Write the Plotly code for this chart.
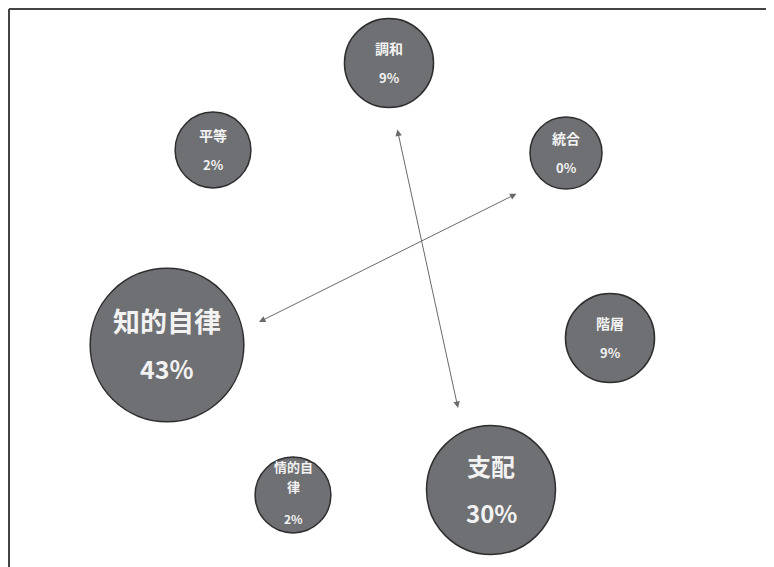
import plotly.graph_objects as go

# ---- data ----
labels = ["調和", "平等", "統合", "知的自律", "階層", "情的自律", "支配"]
percents = [9, 2, 0, 43, 9, 2, 30]

# ---- layout (pixel positions of bubble centres) ----
cx = [389, 213, 566, 167, 610, 293, 491]
cy = [63, 150, 153, 345, 338, 495, 490]

W, H = 774, 567
OFF = 8  # page body margin
FILL = "#6f7073"
EDGE = "#2e2e2e"
TXT = "#f2f2f2"
FONT = "Noto Sans CJK JP"

# radius grows with share
radii = [36 + 0.95 * p for p in percents]
diam = [2 * r for r in radii]

fig = go.Figure()
fig.add_trace(go.Scatter(
    x=cx, y=cy, mode="markers",
    marker=dict(size=diam, sizemode="diameter", color=FILL,
                line=dict(color=EDGE, width=1.5), opacity=1),
    hoverinfo="skip", showlegend=False,
))

annotations = []


def txt(x, y, s, size):
    annotations.append(dict(x=x, y=y, xref="x", yref="y", text=f"<b>{s}</b>",
                            showarrow=False, font=dict(family=FONT, size=size, color=TXT)))


for i, (lab, p) in enumerate(zip(labels, percents)):
    if p >= 40:
        txt(cx[i], cy[i] - 25, lab, 27)
        txt(cx[i], cy[i] + 23, f"{p}%", 25)
    elif p >= 20:
        txt(cx[i], cy[i] - 25, lab, 24)
        txt(cx[i], cy[i] + 22, f"{p}%", 24)
    elif len(lab) > 3:
        txt(cx[i], cy[i] - 29, lab[:3], 13)
        txt(cx[i], cy[i] - 9, lab[3:], 13)
        txt(cx[i], cy[i] + 23, f"{p}%", 12)
    else:
        txt(cx[i], cy[i] - 15, lab, 14)
        txt(cx[i], cy[i] + 14, f"{p}%", 13)

# two double-headed axis arrows
arrows = [((458, 408), (397, 128)), ((259, 322), (518, 193))]
for (x1, y1), (x0, y0) in arrows:
    annotations.append(dict(x=x1, y=y1, ax=x0, ay=y0, xref="x", yref="y",
                            axref="x", ayref="y", showarrow=True, text="",
                            arrowhead=2, startarrowhead=2, arrowside="end+start",
                            arrowsize=1.3, startarrowsize=1.3,
                            arrowwidth=1, arrowcolor="#6a6a6a"))

shapes = [
    dict(type="line", xref="x", yref="y", x0=9, x1=W + OFF, y0=9, y1=9,
         line=dict(color="#444444", width=2)),
    dict(type="line", xref="x", yref="y", x0=9, x1=9, y0=9, y1=H + OFF,
         line=dict(color="#444444", width=2)),
]

fig.update_layout(
    width=W, height=H,
    margin=dict(l=0, r=0, t=0, b=0),
    paper_bgcolor="white", plot_bgcolor="white",
    xaxis=dict(range=[OFF, W + OFF], visible=False, fixedrange=True),
    yaxis=dict(range=[H + OFF, OFF], visible=False, fixedrange=True),
    annotations=annotations, shapes=shapes,
    font=dict(family=FONT),
)

fig.write_html("out.html")
